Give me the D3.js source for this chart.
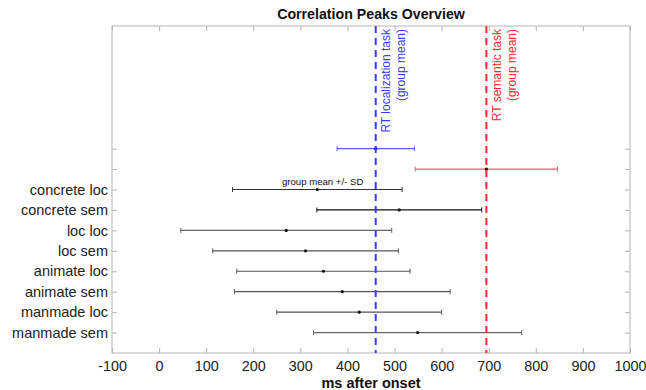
<!DOCTYPE html>
<html><head><meta charset="utf-8">
<script src="https://cdn.jsdelivr.net/npm/d3@7"></script>
<style>body{margin:0;background:#fff}svg{display:block;font-family:"Liberation Sans",Arial,sans-serif}</style>
</head><body>
<svg id="c" width="646" height="390"></svg>
<script>
const categories = ["concrete loc","concrete sem","loc loc","loc sem","animate loc","animate sem","manmade loc","manmade sem"];
const means = [336, 510, 270, 311, 349, 389, 425, 549];
const sds   = [180, 175, 224, 197, 184, 229, 175, 221];
const barColors = ["#333","#111","#666","#555","#555","#555","#555","#666"];
const rtLabels = [["RT localization task","(group mean)"],["RT semantic task","(group mean)"]];
const rtMeans = [460, 695];
const rtSds = [82, 151];
const rtColors = ["#3a3aff","#ff2a2a"];
const rtBarColors = ["#5a5aff","#ff5a5a"];
const xTicks = [-100,0,100,200,300,400,500,600,700,800,900,1000];

const svg = d3.select("#c");
const L=112, R=630, T=26, B=353;
const x = d3.scaleLinear().domain([-100,1000]).range([L,R]);
const y = d3.scaleLinear().domain([0,16]).range([B,T]);
const catPos = categories.map((c,i)=>categories.length - i);
const rtPos = [10, 9];
const yTickVals = d3.range(1,11);
const yLabelMap = {};
categories.forEach((c,i)=>yLabelMap[catPos[i]]=c);

const axisColor = "#b5b5b5";
svg.append("rect").attr("x",L).attr("y",T).attr("width",R-L).attr("height",B-T)
  .attr("fill","none").attr("stroke",axisColor).attr("stroke-width",1);

const gx = svg.append("g").attr("transform",`translate(0,${B})`)
  .call(d3.axisBottom(x).tickValues(xTicks).tickSizeInner(-5).tickSizeOuter(0).tickPadding(8).tickFormat(d=>String(d)));
gx.select(".domain").remove();
gx.selectAll("line").attr("stroke",axisColor);
gx.selectAll("text").attr("font-size","14.4px").attr("fill","#222");
const gxt = svg.append("g").attr("transform",`translate(0,${T})`)
  .call(d3.axisTop(x).tickValues(xTicks).tickSizeInner(-5).tickSizeOuter(0).tickFormat(""));
gxt.select(".domain").remove();
gxt.selectAll("line").attr("stroke",axisColor);
const gy = svg.append("g").attr("transform",`translate(${L},0)`)
  .call(d3.axisLeft(y).tickValues(yTickVals).tickSizeInner(-5).tickSizeOuter(0).tickPadding(4).tickFormat(d=>yLabelMap[d]||""));
gy.select(".domain").remove();
gy.selectAll("line").attr("stroke",axisColor);
gy.selectAll("text").attr("font-size","14.5px").attr("fill","#222");
const gyr = svg.append("g").attr("transform",`translate(${R},0)`)
  .call(d3.axisRight(y).tickValues(yTickVals).tickSizeInner(-5).tickSizeOuter(0).tickFormat(""));
gyr.select(".domain").remove();
gyr.selectAll("line").attr("stroke",axisColor);

function errbar(g, m, s, yy, col, w){
  const yp = y(yy);
  g.append("line").attr("x1",x(m-s)).attr("x2",x(m+s)).attr("y1",yp).attr("y2",yp).attr("stroke",col).attr("stroke-width",w);
  [m-s,m+s].forEach(v=>g.append("line").attr("x1",x(v)).attr("x2",x(v)).attr("y1",yp-2.5).attr("y2",yp+2.5).attr("stroke",col).attr("stroke-width",1));
  g.append("circle").attr("cx",x(m)).attr("cy",yp).attr("r",1.6).attr("fill","#111");
}
const gb = svg.append("g");
categories.forEach((c,i)=>errbar(gb, means[i], sds[i], catPos[i], barColors[i], 1.2));
rtMeans.forEach((m,i)=>errbar(gb, m, rtSds[i], rtPos[i], rtBarColors[i], 1.2));

rtMeans.forEach((m,i)=>{
  svg.append("line").attr("x1",x(m)).attr("x2",x(m)).attr("y1",T).attr("y2",B)
    .attr("stroke",rtColors[i]).attr("stroke-width",2).attr("stroke-dasharray","7,5");
  const t = svg.append("text").attr("transform",`translate(${x(m)+14.5},${T+3}) rotate(-90)`)
    .attr("text-anchor","end").attr("font-size","12px").attr("fill",rtColors[i]);
  rtLabels[i].forEach((s,k)=>t.append("tspan").attr("x",0).attr("dy",k===0?"0":"1.25em").text(s));
});

svg.append("text").attr("x",282).attr("y",184.5).attr("font-size","9.6px").attr("fill","#111").text("group mean +/- SD");

svg.append("text").attr("x",(L+R)/2).attr("y",19).attr("text-anchor","middle")
  .attr("font-size","14.2px").attr("font-weight","bold").attr("fill","#111").text("Correlation Peaks Overview");
svg.append("text").attr("x",(L+R)/2).attr("y",388).attr("text-anchor","middle")
  .attr("font-size","14.5px").attr("font-weight","bold").attr("fill","#111").text("ms after onset");
</script>
</body></html>
